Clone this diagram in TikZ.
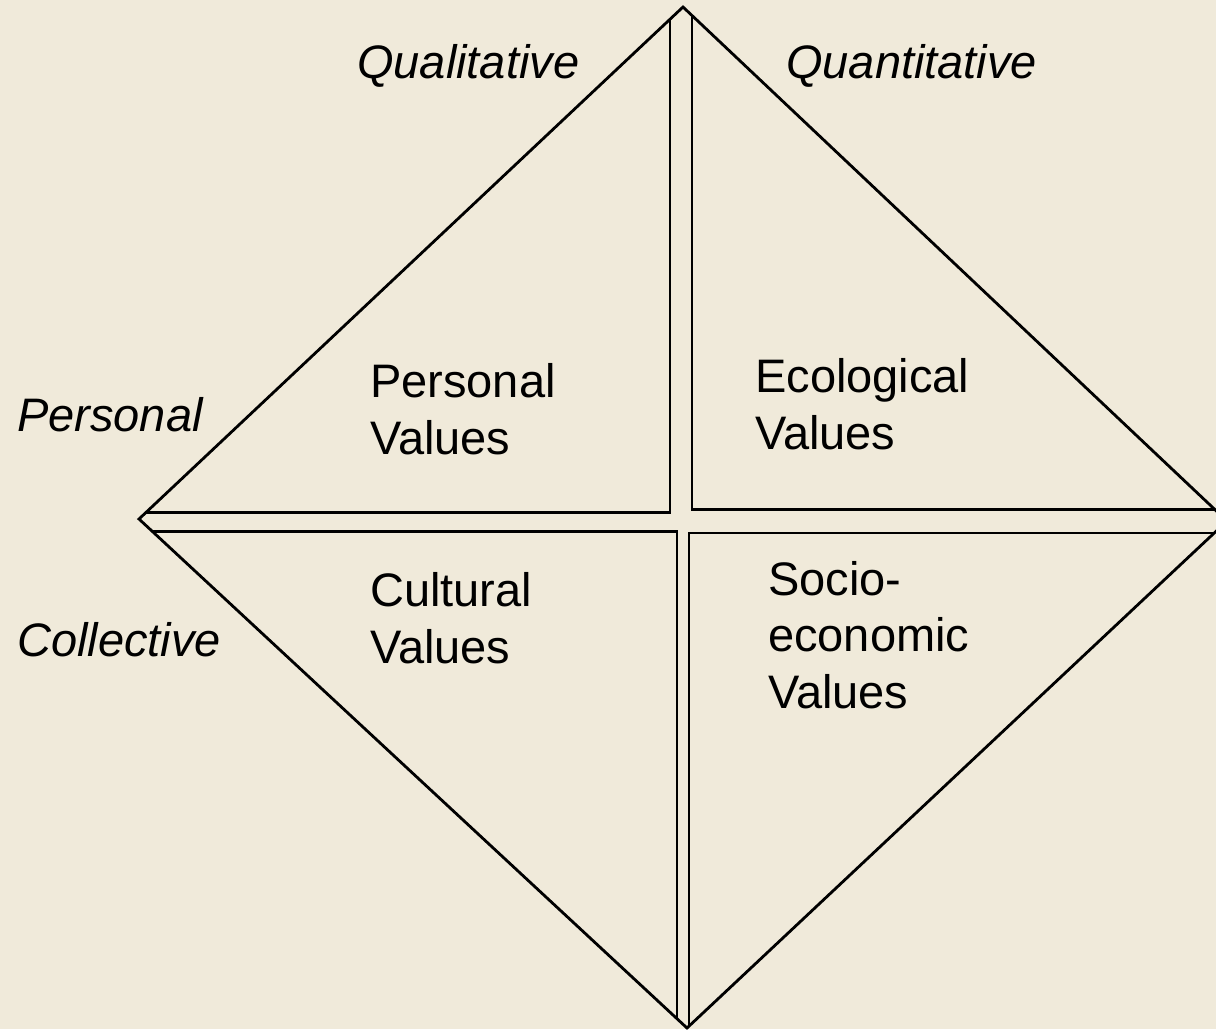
\documentclass[tikz,border=0pt]{standalone}
\usepackage{fontspec}
\setmainfont{Liberation Sans}
\begin{document}
\begin{tikzpicture}[x=1pt,y=-1pt,
  edge/.style={line width=2.8pt,draw=black,line join=miter},
  lbl/.style={anchor=base west,inner sep=0pt,font=\fontsize{47}{56.5}\selectfont,align=left},
  axis/.style={lbl,font=\fontsize{47}{56.5}\selectfont\itshape}]
\fill[fill={rgb,255:red,240;green,234;blue,218}] (0,0) rectangle (1216,1029);
\useasboundingbox (0,0) rectangle (1216,1029);
\begin{scope}
\clip (0,0) rectangle (1216,1029);
% diamond corners
\coordinate (L) at (139,519);
\coordinate (T) at (683,7);
\coordinate (R) at (1227,521);
\coordinate (B) at (687,1028);
% top-left triangle
\coordinate (tl1) at (670,19.2);
\coordinate (tl2) at (670,512.5);
\coordinate (tl3) at (146,512.5);
% top-right triangle
\coordinate (tr1) at (692,15.5);
\coordinate (tr2) at (692,509.5);
\coordinate (tr3) at (1214.8,509.5);
% bottom-left triangle
\coordinate (bl1) at (152.5,531.5);
\coordinate (bl2) at (677,531.5);
\coordinate (bl3) at (677,1018.7);
% bottom-right triangle
\coordinate (br1) at (1214.2,533);
\coordinate (br2) at (689,533);
\coordinate (br3) at (689,1026.1);
\draw[edge] (L) -- (T) -- (R) -- (B) -- cycle;
\draw[edge] (tl1) -- (tl2) -- (tl3);
\draw[edge] (tr1) -- (tr2) -- (tr3);
\draw[edge] (bl1) -- (bl2) -- (bl3);
\draw[edge] (br1) -- (br2) -- (br3);
\end{scope}
% labels (multi-line nodes: base = last line baseline)
\node[axis] (qual) at (357,78) {Qualitative};
\node[axis] (quan) at (786,78) {Quantitative};
\node[axis] (pers) at (17,431) {Personal};
\node[axis] (coll) at (17,656) {Collective};
\node[lbl] (pv) at (370,454) {Personal\\Values};
\node[lbl] (ev) at (755,449) {Ecological\\Values};
\node[lbl] (cv) at (370,663) {Cultural\\Values};
\node[lbl] (sv) at (768,708) {Socio-\\economic\\Values};
\end{tikzpicture}
\end{document}
